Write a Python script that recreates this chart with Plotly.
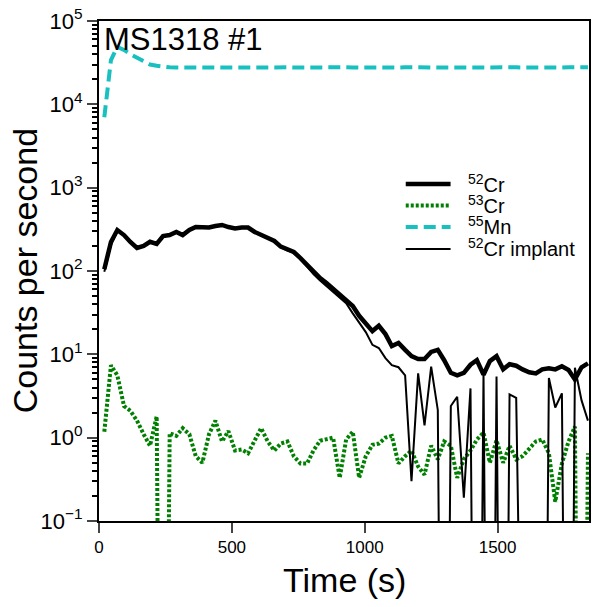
import plotly.graph_objects as go

# ---------------- data ----------------
time_s = [20, 45, 69, 94, 118, 143, 168, 192, 217, 241,
          266, 291, 315, 340, 364, 389, 414, 438, 463, 487,
          512, 537, 561, 586, 610, 635, 660, 684, 709, 733,
          758, 783, 807, 832, 856, 881, 906, 930, 955, 979,
          1004, 1029, 1053, 1078, 1102, 1127, 1152, 1176, 1201, 1225,
          1250, 1275, 1299, 1324, 1348, 1373, 1398, 1422, 1447, 1471,
          1496, 1521, 1545, 1570, 1594, 1619, 1644, 1668, 1693, 1717,
          1742, 1767, 1791, 1816, 1840]

cr52 = [105, 223, 310, 270, 223, 189, 200, 224, 211, 263,
        270, 294, 270, 310, 337, 333, 333, 347, 357, 337,
        324, 332, 332, 294, 270, 249, 229, 196, 179, 169,
        143, 118, 97, 82, 72, 61, 52, 44, 38, 29,
        24, 19, 22, 17.5, 12.6, 13.7, 11.3, 9.5, 8.8, 8.8,
        10.7, 11.3, 8.5, 6.0, 5.6, 6.0, 7.5, 8.5, 5.7, 8.3,
        9.5, 6.6, 7.6, 7.3, 6.6, 6.1, 5.9, 6.6, 6.8, 6.6,
        7.2, 6.5, 5.0, 7.0, 7.8]

cr53 = [1.18, 7.4, 5.6, 2.4, 2.1, 1.6, 1.1, 0.8, 1.8, 0,
        1.13, 1.05, 1.3, 1.1, 0.6, 0.5, 1.1, 1.6, 0.9, 1.2,
        0.7, 0.72, 0.65, 0.95, 1.3, 0.9, 0.7, 0.85, 0.9, 0.6,
        0.49, 0.49, 0.7, 0.92, 0.95, 1.0, 0.33, 0.95, 1.18, 0.33,
        0.6, 0.82, 0.85, 1.0, 1.05, 0.49, 0.6, 0.7, 0.45, 0.36,
        0.8, 0.55, 0.9, 0.8, 0.33, 0.55, 0.7, 0.95, 1.15, 0.5,
        0.93, 0.5, 0.8, 0.55, 0.6, 0.75, 0.9, 0.95, 0.65, 0.17,
        0.49, 0.9, 1.36, 0, 0.65]

mn55 = [7000, 34000, 49000, 45000, 40000, 36000, 32500, 30000, 29000, 28200,
        27800, 27600, 27700, 27500, 27600, 27700, 27600, 27800, 27700, 27600,
        27700, 27800, 27600, 27700, 27800, 27700, 27600, 27700, 27800, 27700,
        27800, 27700, 27600, 27700, 27800, 27700, 27700, 27800, 27700, 27600,
        27700, 27800, 27700, 27700, 27600, 27700, 27800, 27700, 27700, 27800,
        27700, 27600, 27700, 27800, 27700, 27700, 27800, 27700, 27600, 27700,
        27800, 27700, 27700, 27800, 27700, 27600, 27700, 27800, 27800, 27700,
        27700, 27800, 27900, 27800, 27800]

cr52_implant = [98, 205, 300, 268, 221, 187, 198, 222, 209, 261,
                268, 292, 268, 308, 335, 331, 331, 345, 355, 335,
                322, 330, 330, 292, 268, 247, 226, 193, 176, 165,
                139, 113, 92, 77, 66, 56, 47, 41, 31, 24.4,
                18.5, 13, 11.9, 9.0, 7.4, 7.0, 5.6, 0.3, 5.9, 1.4,
                7.1, 2.15, 0, 2.4, 3.1, 0.19, 3.9, 0, 5.9, 0,
                5.4, 0, 3.3, 3.0, 0, 0, 0, 0, 5.2, 2.3,
                3.4, 0, 6.9, 2.8, 1.6]

names = ["<sup>52</sup>Cr", "<sup>53</sup>Cr", "<sup>55</sup>Mn", "<sup>52</sup>Cr implant"]
x_ticks = [0, 500, 1000, 1500]
y_ticks = [0.1, 1, 10, 100, 1000, 10000, 100000]
y_ticktext = ["10<sup>\u22121</sup>", "10<sup>0</sup>", "10<sup>1</sup>", "10<sup>2</sup>",
              "10<sup>3</sup>", "10<sup>4</sup>", "10<sup>5</sup>"]
y_minor = [m * d for d in (0.1, 1, 10, 100, 1000, 10000) for m in range(2, 10)]
sample_label = "MS1318 #1"
X_RANGE = [0, 1844]
Y_RANGE = [-1, 5]   # log10 of the y limits

for s in (cr52, cr53, mn55, cr52_implant):
    assert len(s) == len(time_s)

# zero counts cannot be shown on a log axis: send them far below the visible range
def for_log(vals):
    return [v if v > 0 else 1e-9 for v in vals]

FONT = "Liberation Sans, Arial, sans-serif"
styles = [dict(color="black", width=4.5),
          dict(color="#008000", width=4, dash="3px,2px"),
          dict(color="#19C0C0", width=4, dash="12px,6px"),
          dict(color="black", width=2)]
series = [cr52, cr53, mn55, cr52_implant]
# the last trace sits on an identical overlaid log axis that carries the minor ticks
yaxes = ["y", "y", "y", "y2"]

# ---- pixel layout of the reference ----
W, H = 592, 607
L, R, T, B = 99, 1, 21, 86
pw, ph = W - L - R, H - T - B
def px(x): return (x - L) / pw
def py(y): return 1 - (y - T) / ph

fig = go.Figure()
for nm, ys, st, ya in zip(names, series, styles, yaxes):
    fig.add_trace(go.Scatter(x=time_s, y=for_log(ys), mode="lines", name=nm,
                             line=st, showlegend=False, yaxis=ya))

shapes = []
annotations = []

# manual legend
leg_rows = [184, 205.5, 227, 249]
for nm, st, yy in zip(names, styles, leg_rows):
    shapes.append(dict(type="line", xref="paper", yref="paper",
                       x0=px(407), x1=px(452), y0=py(yy), y1=py(yy),
                       line=dict(color=st["color"], width=st["width"],
                                 dash=st.get("dash", "solid"))))
    annotations.append(dict(text=nm, xref="paper", yref="paper",
                            x=px(467), y=py(yy - 1), xanchor="left", yanchor="middle",
                            showarrow=False, font=dict(size=20, family=FONT)))

annotations.append(dict(text=sample_label, xref="paper", yref="paper",
                        x=px(102), y=py(20), xanchor="left", yanchor="top",
                        showarrow=False, font=dict(size=31, family=FONT)))
annotations.append(dict(text="Counts per second", xref="paper", yref="paper",
                        x=px(25), y=0.5, xanchor="center", yanchor="middle",
                        textangle=-90, showarrow=False, font=dict(size=34, family=FONT)))
annotations.append(dict(text="Time (s)", xref="paper", yref="paper",
                        x=0.5, y=py(580), xanchor="center", yanchor="middle",
                        showarrow=False, font=dict(size=34, family=FONT)))

fig.update_layout(
    width=W, height=H,
    margin=dict(l=L, r=R, t=T, b=B),
    paper_bgcolor="white", plot_bgcolor="white",
    font=dict(family=FONT, color="black"),
    showlegend=False,
    shapes=shapes,
    annotations=annotations,
    xaxis=dict(range=X_RANGE, tickvals=x_ticks, ticks="outside", ticklen=10,
               tickwidth=2, showline=True, linewidth=2, linecolor="black",
               mirror=True, showgrid=False, zeroline=False,
               tickfont=dict(size=17, family=FONT)),
    yaxis=dict(type="log", range=Y_RANGE, tickvals=y_ticks, ticktext=y_ticktext,
               ticks="outside", ticklen=10, tickwidth=2,
               showline=True, linewidth=2, linecolor="black", mirror=True,
               showgrid=False, zeroline=False,
               tickfont=dict(size=22, family=FONT)),
    yaxis2=dict(type="log", range=Y_RANGE, overlaying="y", side="left", anchor="x",
                tickvals=y_minor, ticks="outside", ticklen=6, tickwidth=1.6,
                tickcolor="black", showticklabels=False, showline=False,
                showgrid=False, zeroline=False),
)

fig.write_html("out.html")
